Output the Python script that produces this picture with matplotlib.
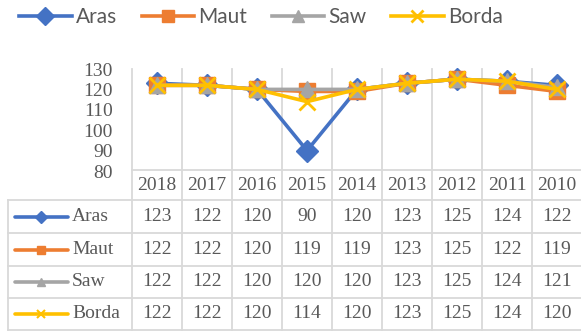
import matplotlib
matplotlib.use('Agg')
import matplotlib.pyplot as plt
from matplotlib.lines import Line2D
from matplotlib.transforms import blended_transform_factory

# Ranking results per method, years listed newest first
years = ['2018', '2017', '2016', '2015', '2014', '2013', '2012', '2011', '2010']
aras = [123, 122, 120, 90, 120, 123, 125, 124, 122]
maut = [122, 122, 120, 119, 119, 123, 125, 122, 119]
saw = [122, 122, 120, 120, 120, 123, 125, 124, 121]
borda = [122, 122, 120, 114, 120, 123, 125, 124, 120]

series = [
    ('Aras', aras, '#4472C4', 'D'),
    ('Maut', maut, '#ED7D31', 's'),
    ('Saw', saw, '#A5A5A5', '^'),
    ('Borda', borda, '#FFC000', 'x'),
]

text_color = '#595959'
grid_color = '#D9D9D9'
serif = 'Liberation Serif'

W, H = 581, 332
fig = plt.figure(figsize=(W / 100, H / 100), dpi=100)

# overlay in pixel units for the data table grid
ov = fig.add_axes([0, 0, 1, 1], zorder=0)
ov.set_xlim(0, W)
ov.set_ylim(H, 0)
ov.axis('off')

# plot area
left, right, top, bottom = 132, 582, 69, 171
ax = fig.add_axes([left / W, 1 - bottom / H, (right - left) / W, (bottom - top) / H], zorder=2)
ax.patch.set_alpha(0)
n = len(years)
ax.set_xlim(-0.5, n - 0.5)
ax.set_ylim(80, 130)
ax.set_yticks(range(80, 131, 10))
ax.set_xticks([])
for s in ax.spines.values():
    s.set_visible(False)
ax.tick_params(axis='y', length=0, pad=14, labelsize=14, labelcolor=text_color)
for lab in ax.get_yticklabels():
    lab.set_fontfamily(serif)

x = list(range(n))
handles = []
for name, vals, color, mk in series:
    mew = 2 if mk == 'x' else 1
    ax.plot(x, vals, color=color, lw=2.6, marker=mk, markersize=11,
            markeredgewidth=mew, clip_on=False, solid_joinstyle='round')
    handles.append(Line2D([], [], color=color, lw=2.6, marker=mk, markersize=9,
                          markeredgewidth=mew))

fig.legend(handles, [s[0] for s in series], loc='center', ncol=4,
           bbox_to_anchor=(261 / W, 1 - 17 / H), frameon=False,
           prop={'family': 'Lato', 'size': 15}, labelcolor=text_color,
           handlelength=2.5, handletextpad=0.2, columnspacing=1.2)

# data table grid
bt = blended_transform_factory(ax.transData, ov.transData)
row_edges = [200, 233, 266, 298, 330]
for i in range(n + 1):
    ov.plot([i - 0.5, i - 0.5], [top, row_edges[-1]], color=grid_color, lw=1.3,
            transform=bt, zorder=1)
ov.plot([-0.5, n - 0.5], [170, 170], color=grid_color, lw=1.3, transform=bt)
for y in row_edges:
    ov.plot([8, right], [y, y], color=grid_color, lw=1.3)
ov.plot([8, 8], [row_edges[0], row_edges[-1]], color=grid_color, lw=1.3)

# header row with years
for i, yr in enumerate(years):
    ov.text(i, 185, yr, transform=bt, ha='center', va='center',
            fontsize=14, family=serif, color=text_color)

# value rows with legend keys
for r, (name, vals, color, mk) in enumerate(series):
    yc = (row_edges[r] + row_edges[r + 1]) / 2
    mew = 1.5 if mk == 'x' else 1
    ov.plot([15, 68], [yc, yc], color=color, lw=2.6, solid_capstyle='round')
    ov.plot([41], [yc], color=color, marker=mk, markersize=6, markeredgewidth=mew)
    ov.text(72, yc, name, ha='left', va='center', fontsize=14, family=serif,
            color=text_color)
    for i, v in enumerate(vals):
        ov.text(i, yc, str(v), transform=bt, ha='center', va='center',
                fontsize=14, family=serif, color=text_color)

fig.savefig('out.png', dpi=100)
